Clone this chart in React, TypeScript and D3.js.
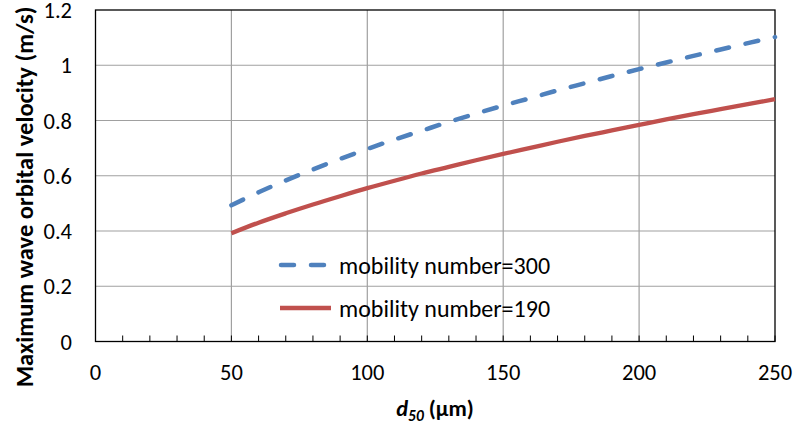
import React from "react";
import * as d3 from "d3";

// Grain size d50 (µm) and the maximum wave orbital velocity (m/s) for two mobility numbers
const d50 = [50, 60, 70, 80, 90, 100, 110, 120, 130, 140, 150, 160, 170, 180, 190, 200, 210, 220, 230, 240, 250];
const velocity300 = [0.493, 0.540, 0.583, 0.623, 0.661, 0.697, 0.731, 0.763, 0.795, 0.825, 0.854, 0.881, 0.909, 0.935, 0.961, 0.986, 1.010, 1.034, 1.057, 1.080, 1.102];
const velocity190 = [0.392, 0.430, 0.464, 0.496, 0.526, 0.555, 0.582, 0.608, 0.632, 0.656, 0.679, 0.701, 0.723, 0.744, 0.764, 0.784, 0.804, 0.823, 0.841, 0.859, 0.877];

const xTicks = [0, 50, 100, 150, 200, 250];
const xMinorTicks = d3.range(0, 251, 10);
const yTicks = [0, 0.2, 0.4, 0.6, 0.8, 1.0, 1.2];
const yTickLabels = ["0", "0.2", "0.4", "0.6", "0.8", "1", "1.2"];

const seriesLabels = ["mobility number=300", "mobility number=190"];
const colors = ["#4F81BD", "#C0504D"];

const W = 795;
const H = 427;
const left = 95.5;
const right = 775;
const top = 10;
const bottom = 341.5;
const font = "Carlito, Calibri, Lato, 'Open Sans', sans-serif";
const tickSize = 22.5;

export default function App() {
  const x = d3.scaleLinear().domain([0, 250]).range([left, right]);
  const y = d3.scaleLinear().domain([0, 1.2]).range([bottom, top]);
  const line = d3
    .line<number>()
    .x((_, i) => x(d50[i]))
    .y((v) => y(v))
    .curve(d3.curveMonotoneX);

  const legendX = 281;
  const legendRows = [265, 308];

  return (
    <svg
      width={W}
      height={H}
      style={{ position: "absolute", left: 0, top: 0, background: "#fff" }}
      fontFamily={font}
    >
      {/* grid */}
      {xTicks.slice(1, -1).map((t) => (
        <line key={`gx${t}`} x1={x(t)} x2={x(t)} y1={top} y2={bottom} stroke="#A0A0A0" strokeWidth={1.2} />
      ))}
      {yTicks.slice(1, -1).map((t) => (
        <line key={`gy${t}`} x1={left} x2={right} y1={y(t)} y2={y(t)} stroke="#A0A0A0" strokeWidth={1.2} />
      ))}
      {/* minor ticks on x axis */}
      {xMinorTicks.map((t) => (
        <line key={`mt${t}`} x1={x(t)} x2={x(t)} y1={bottom} y2={bottom - 6} stroke="#000" strokeWidth={1} />
      ))}
      {/* frame */}
      <rect x={left} y={top} width={right - left} height={bottom - top} fill="none" stroke="#000" strokeWidth={1.3} />

      {/* series */}
      <path d={line(velocity190) || ""} fill="none" stroke={colors[1]} strokeWidth={4.3} />
      <path
        d={line(velocity300) || ""}
        fill="none"
        stroke={colors[0]}
        strokeWidth={4.5}
        strokeDasharray="13 17"
        strokeLinecap="round"
      />

      {/* tick labels */}
      {yTicks.map((t, i) => (
        <text key={`yl${t}`} x={72} y={y(t)} dy="0.36em" textAnchor="end" fontSize={tickSize} fill="#000">
          {yTickLabels[i]}
        </text>
      ))}
      {xTicks.map((t) => (
        <text key={`xl${t}`} x={x(t)} y={372} dy="0.36em" textAnchor="middle" fontSize={tickSize} fill="#000">
          {t}
        </text>
      ))}

      {/* legend */}
      <line x1={legendX} x2={legendX + 48} y1={legendRows[0]} y2={legendRows[0]} stroke={colors[0]} strokeWidth={4.5} strokeDasharray="13 17" strokeLinecap="round" />
      <line x1={legendX - 1} x2={legendX + 50} y1={legendRows[1]} y2={legendRows[1]} stroke={colors[1]} strokeWidth={4.3} />
      {seriesLabels.map((s, i) => (
        <text key={s} x={339} y={legendRows[i]} dy="0.36em" fontSize={24} fill="#000">
          {s}
        </text>
      ))}

      {/* axis titles */}
      <text
        transform={`translate(24, 197) rotate(-90)`}
        textAnchor="middle"
        dy="0.36em"
        fontSize={24.5}
        fontWeight="bold"
        fill="#000"
      >
        Maximum wave orbital velocity (m/s)
      </text>
      <text x={435} y={408} dy="0.36em" textAnchor="middle" fontSize={22.5} fontWeight="bold" fill="#000">
        <tspan fontStyle="italic">d</tspan>
        <tspan fontStyle="italic" fontSize={15.5} dy="5">50</tspan>
        <tspan dy="-5"> (µm)</tspan>
      </text>
    </svg>
  );
}
